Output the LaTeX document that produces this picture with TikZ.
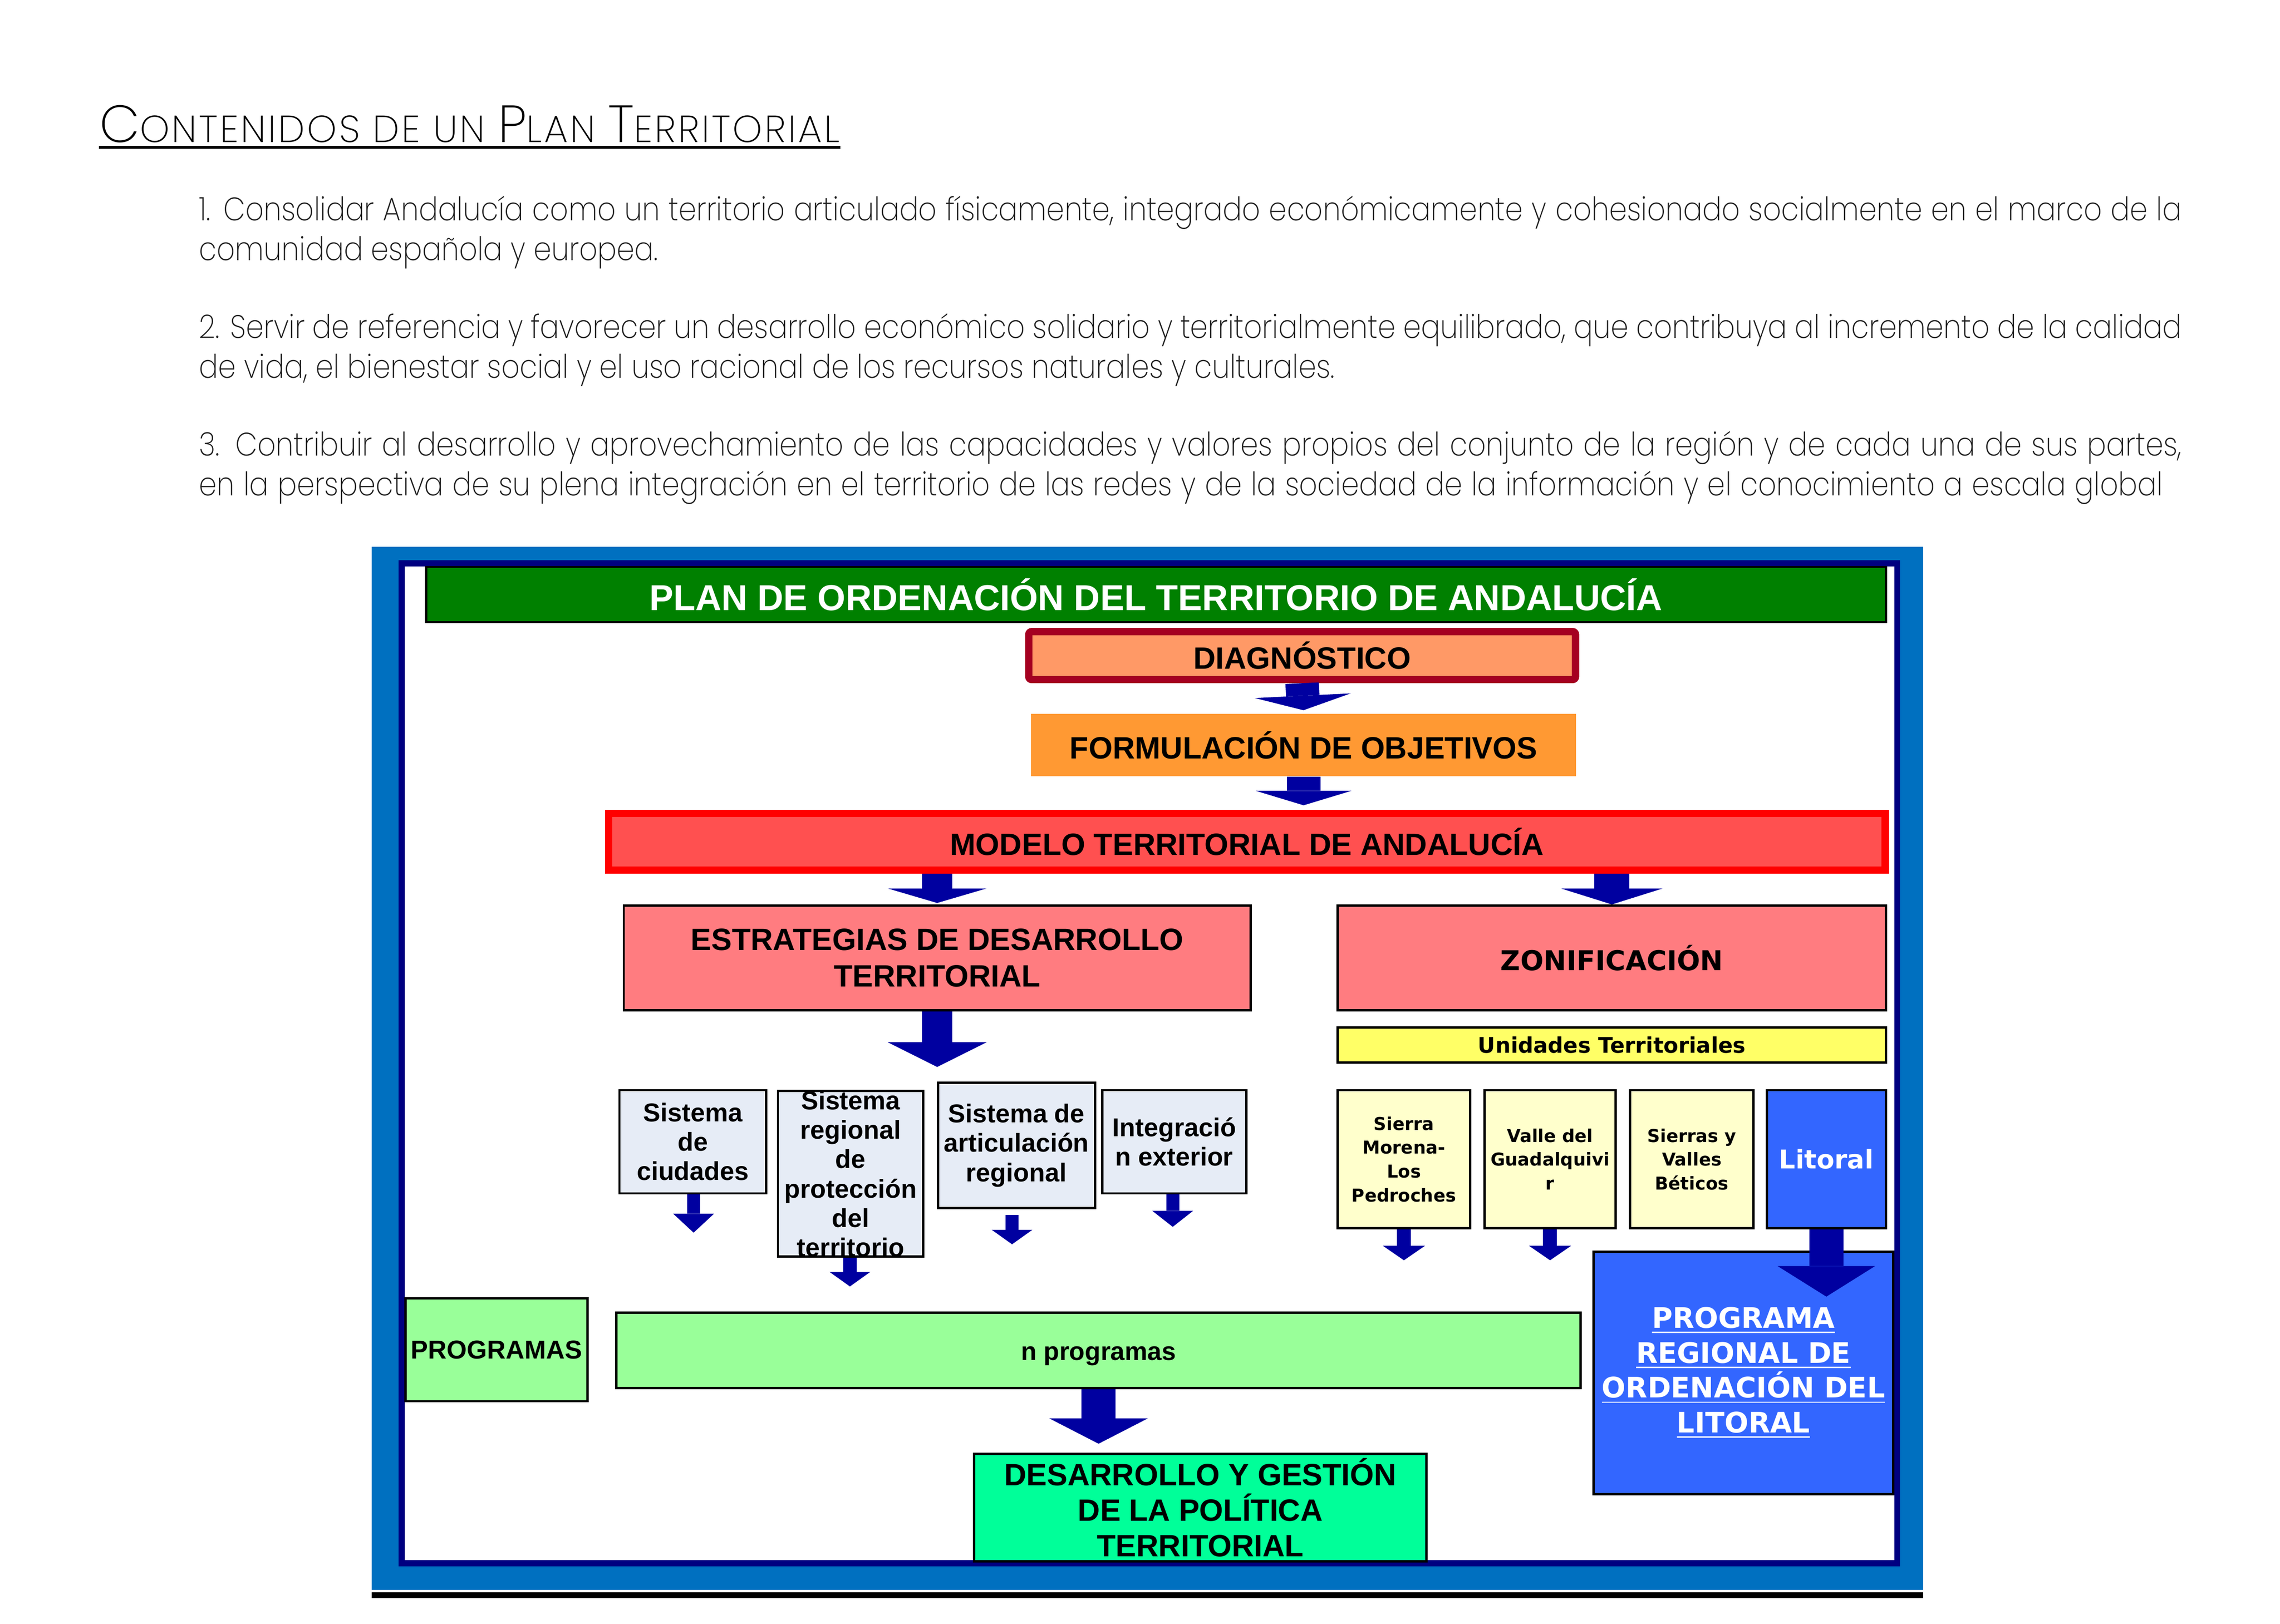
\documentclass[tikz,border=0pt]{standalone}
\usepackage{fontspec}
\setmainfont{Liberation Sans}
\newfontfamily\arialf{Liberation Sans}
\newfontfamily\verdf{DejaVu Sans}
\IfFontExistsTF{Poppins ExtraLight}{%
  \newfontfamily\thinf{Poppins ExtraLight}[FakeStretch=0.875]%
  \newfontfamily\titlef{Poppins ExtraLight}[LetterSpace=5.8]}{%
  \IfFontExistsTF{Poppins Light}{%
    \newfontfamily\thinf{Poppins Light}[FakeStretch=0.875]%
    \newfontfamily\titlef{Poppins Light}[LetterSpace=5.8]}{%
    \newfontfamily\thinf{Poppins}[FakeStretch=0.875]%
    \newfontfamily\titlef{Poppins}[LetterSpace=5.8]}}
\usetikzlibrary{arrows.meta}
\definecolor{frameblue}{RGB}{0,112,192}
\definecolor{navyfr}{RGB}{0,0,128}
\definecolor{titlegreen}{RGB}{0,128,0}
\definecolor{diagred}{RGB}{165,0,33}
\definecolor{diagfill}{RGB}{255,153,102}
\definecolor{formfill}{RGB}{255,153,51}
\definecolor{modred}{RGB}{255,0,0}
\definecolor{modfill}{RGB}{255,80,80}
\definecolor{estfill}{RGB}{255,124,128}
\definecolor{unifill}{RGB}{255,255,102}
\definecolor{lightbox}{RGB}{230,236,246}
\definecolor{yelbox}{RGB}{255,255,204}
\definecolor{litblue}{RGB}{51,102,255}
\definecolor{progfill}{RGB}{153,255,153}
\definecolor{desfill}{RGB}{0,255,153}
\definecolor{arrowblue}{RGB}{0,0,160}
\definecolor{bodygray}{RGB}{30,30,30}
\newcommand\scbig[1]{{\fontsize{18}{20}\selectfont #1}}
\begin{document}
\begin{tikzpicture}[x=0.5pt,y=-0.5pt,
  bx/.style={draw=black, line width=0.8pt, inner sep=0pt, align=center},
  af/.style 2 args={font=\arialf\bfseries\fontsize{#1}{#2}\selectfont},
  vf/.style 2 args={font=\verdf\bfseries\fontsize{#1}{#2}\selectfont},
  barr/.style n args={3}{draw=arrowblue, line width=#1, -{Triangle[width=#2,length=#3,line width=0pt]}},
  bodyline/.style={anchor=base west, inner sep=0pt, font=\thinf\fontsize{11.2}{13}\selectfont, text=bodygray}
]
\useasboundingbox (0,0) rectangle (1568,1117);

% ---------- heading and text ----------
\node[anchor=base west, inner sep=0pt, text=black, font=\titlef\fontsize{13}{20}\selectfont] (ttl) at (68,98)
  {\scbig{C}ONTENIDOS DE UN \scbig{P}LAN \scbig{T}ERRITORIAL};
\draw[line width=1pt] ([yshift=-1.4pt]ttl.south west) -- ([yshift=-1.4pt]ttl.south east);

\node[bodyline] (p1a) at (136.5,151.6) {\makebox[681.75pt][s]{1. Consolidar Andalucía como un territorio articulado físicamente, integrado económicamente y cohesionado socialmente en el marco de la}};
\node[bodyline] (p1b) at (136.5,179) {comunidad española y europea.};
\node[bodyline] (p2a) at (136.5,232.5) {\makebox[681.75pt][s]{2. Servir de referencia y favorecer un desarrollo económico solidario y territorialmente equilibrado, que contribuya al incremento de la calidad}};
\node[bodyline] (p2b) at (136.5,260) {de vida, el bienestar social y el uso racional de los recursos naturales y culturales.};
\node[bodyline] (p3a) at (136.5,313.5) {\makebox[681.75pt][s]{3. Contribuir al desarrollo y aprovechamiento de las capacidades y valores propios del conjunto de la región y de cada una de sus partes,}};
\node[bodyline] (p3b) at (136.5,341) {\makebox[675.25pt][s]{en la perspectiva de su plena integración en el territorio de las redes y de la sociedad de la información y el conocimiento a escala global}};

% ---------- frame ----------
\fill[frameblue] (255.6,376.2) rectangle (1322.7,1093.8);
\fill[navyfr] (274.1,385.4) rectangle (1306.8,1077.6);
\fill[white] (278.4,389.7) rectangle (1302.8,1073.3);
\fill[black] (255.6,1095.5) rectangle (1322.7,1099.4);

% ---------- boxes ----------
\node[bx, fill=titlegreen, minimum width=502pt, minimum height=19pt, af={12.4}{14}, text=white] (plan) at (795,409) {PLAN DE ORDENACIÓN DEL TERRITORIO DE ANDALUCÍA};

\node[draw=diagred, line width=2.5pt, rounded corners=1pt, fill=diagfill, minimum width=188pt, minimum height=16.5pt, inner sep=0pt, af={10.6}{12}] (diag) at (895.5,451) {DIAGNÓSTICO};

\node[fill=formfill, minimum width=187.5pt, minimum height=21.5pt, inner sep=0pt, af={10.6}{12}] (form) at (896.5,512.5) {FORMULACIÓN DE OBJETIVOS};

\node[draw=modred, line width=2.5pt, fill=modfill, minimum width=439pt, minimum height=19.5pt, inner sep=0pt, af={10.6}{12}] (modelo) at (857.5,579) {MODELO TERRITORIAL DE ANDALUCÍA};

\node[bx, fill=estfill, minimum width=215.5pt, minimum height=36pt, af={10.6}{12.5}] (estr) at (644.5,659) {ESTRATEGIAS DE DESARROLLO\\TERRITORIAL};
\node[bx, fill=estfill, minimum width=188.5pt, minimum height=36pt, vf={9.4}{11}] (zonif) at (1108.5,659) {ZONIFICACIÓN};
\node[bx, fill=unifill, minimum width=188.5pt, minimum height=12pt, vf={7.4}{9}] (unid) at (1108.5,719) {Unidades Territoriales};

\node[bx, fill=lightbox, minimum width=50.5pt, minimum height=35.5pt, af={8.9}{10.1}] (la) at (476.5,785.5) {Sistema\\de\\ciudades};
\node[bx, fill=lightbox, minimum width=50pt, minimum height=56.5pt, af={8.9}{10.1}] (lb) at (585,807.5) {Sistema\\regional\\de\\protección\\del\\territorio};
\node[bx, fill=lightbox, minimum width=54pt, minimum height=43pt, af={8.9}{10.1}] (lc) at (699,788) {Sistema de\\articulación\\regional};
\node[bx, fill=lightbox, minimum width=49.5pt, minimum height=35.5pt, af={8.9}{10.1}] (ld) at (807.5,785.5) {Integració\\n exterior};

\node[bx, fill=yelbox, minimum width=45.5pt, minimum height=47.5pt, vf={6.1}{8.2}] (ya) at (965.5,797.5) {Sierra\\Morena-\\Los\\Pedroches};
\node[bx, fill=yelbox, minimum width=45pt, minimum height=47.5pt, vf={6.1}{8.2}] (yb) at (1066,797.5) {Valle del\\Guadalquivi\\r};
\node[bx, fill=yelbox, minimum width=42.5pt, minimum height=47.5pt, vf={6.1}{8.2}] (yc) at (1163.5,797.5) {Sierras y\\Valles\\Béticos};
\node[bx, fill=litblue, text=white, minimum width=41pt, minimum height=47.5pt, vf={8.9}{10}] (lit) at (1256,797.5) {Litoral};

\node[bx, fill=litblue, text=white, minimum width=103pt, minimum height=83.5pt, vf={9.7}{12}] (preg) at (1199,944.5)
  {\underline{PROGRAMA}\\\underline{REGIONAL DE}\\\underline{ORDENACIÓN DEL}\\\underline{LITORAL}};

\node[bx, fill=progfill, minimum width=62.5pt, minimum height=35.5pt, af={8.9}{10}] (progs) at (341.5,928.5) {PROGRAMAS};
\node[bx, fill=progfill, minimum width=331.5pt, minimum height=26pt, af={8.8}{10}, text height=6.6pt, text depth=0pt] (np) at (755.5,929) {n programas};
\node[bx, fill=desfill, minimum width=155.5pt, minimum height=37pt, af={10.6}{12.25}] (des) at (825.5,1037) {DESARROLLO Y GESTIÓN\\DE LA POLÍTICA\\TERRITORIAL};

% ---------- free arrow ends ----------
\coordinate (estrEnd) at (644.5,734);
\coordinate (laEnd) at (477,848);
\coordinate (lbEnd) at (584.5,885);
\coordinate (lcEnd) at (696,856);
\coordinate (ldEnd) at (806.5,844);
\coordinate (yaEnd) at (965.5,867);
\coordinate (ybEnd) at (1066,867);
\coordinate (litEnd) at (1256,892);

% ---------- arrows ----------
\draw[barr={11.5pt}{33pt}{5pt}, shorten >=1pt] (diag.south) -- (form.north);
\draw[barr={11.5pt}{33pt}{5pt}, shorten >=1.5pt] (form.south) -- (form.south |- modelo.north);
\draw[barr={10.5pt}{34pt}{5pt}, shorten >=0.5pt] (modelo.south -| estr.north) -- (estr.north);
\draw[barr={12pt}{35pt}{5.5pt}] (modelo.south -| zonif.north) -- (zonif.north);
\draw[barr={10.5pt}{34pt}{8.5pt}] (estr.south) -- (estrEnd);

\draw[barr={4.5pt}{14pt}{6.5pt}] (la.south -| laEnd) -- (laEnd);
\draw[barr={4.5pt}{14pt}{5pt}] (lb.south -| lbEnd) -- (lbEnd);
\draw[barr={4.5pt}{14pt}{5pt}, shorten <=2pt] (lc.south -| lcEnd) -- (lcEnd);
\draw[barr={4.5pt}{14pt}{5.5pt}] (ld.south -| ldEnd) -- (ldEnd);
\draw[barr={4.8pt}{14.5pt}{5pt}] (ya.south) -- (yaEnd);
\draw[barr={4.8pt}{14.5pt}{5pt}] (yb.south) -- (ybEnd);

\draw[barr={11.75pt}{33.5pt}{10.5pt}] (lit.south) -- (litEnd);
\draw[barr={11.75pt}{34pt}{8.75pt}, shorten >=3pt] (np.south) -- (np.south |- des.north);
\end{tikzpicture}
\end{document}
